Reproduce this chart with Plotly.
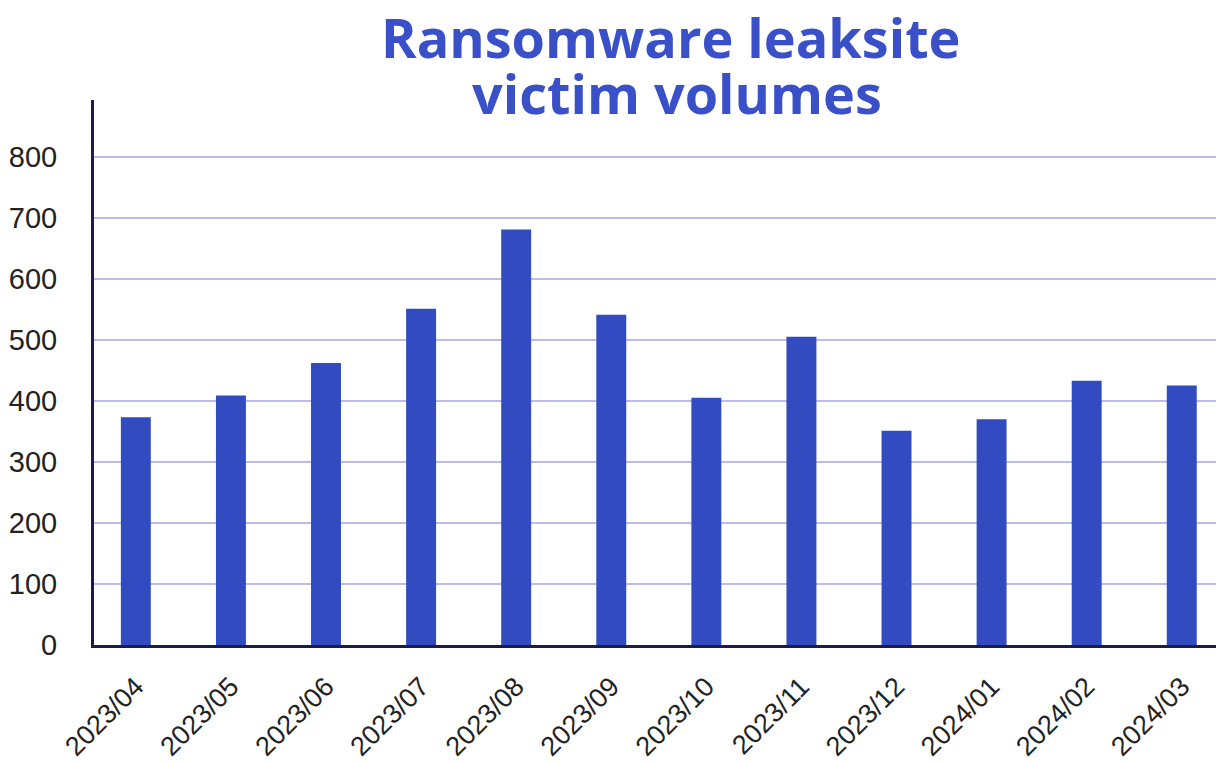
import plotly.graph_objects as go

months = ["2023/04", "2023/05", "2023/06", "2023/07", "2023/08", "2023/09",
          "2023/10", "2023/11", "2023/12", "2024/01", "2024/02", "2024/03"]
victims = [373, 409, 462, 551, 681, 541, 405, 505, 351, 370, 433, 425]
y_ticks = [0, 100, 200, 300, 400, 500, 600, 700, 800]
title_lines = ["Ransomware leaksite", "victim volumes"]

BAR = "#334bc0"
TITLE = "#3a50c8"
AXIS = "#1c1c4a"
GRID = "#bcbcec"

fig = go.Figure(go.Bar(x=list(range(len(months))), y=victims, marker_color=BAR,
                       marker_line_width=0))

fig.update_layout(
    width=1216, height=762,
    margin=dict(l=94, r=0, t=100, b=116.5, pad=0),
    paper_bgcolor="white", plot_bgcolor="white",
    bargap=0.685,
    showlegend=False,
    font=dict(family="Liberation Sans, Arial, sans-serif", color="#222222"),
    annotations=[
        dict(text=f"<b>{title_lines[0]}</b>", xref="paper", yref="paper",
             x=0.514, y=1.116, xanchor="center", yanchor="middle", showarrow=False,
             font=dict(family="Open Sans, sans-serif", size=54, color=TITLE)),
        dict(text=f"<b>{title_lines[1]}</b>", xref="paper", yref="paper",
             x=0.520, y=1.012, xanchor="center", yanchor="middle", showarrow=False,
             font=dict(family="Open Sans, sans-serif", size=54, color=TITLE)),
    ],
)

fig.update_xaxes(
    range=[-0.44, 11.36],
    tickmode="array", tickvals=list(range(len(months))), ticktext=months,
    tickangle=-45, tickfont=dict(size=27, color="#222222"),
    ticks="outside", ticklen=12, tickcolor="rgba(0,0,0,0)",
    showline=True, linecolor=AXIS, linewidth=3,
    showgrid=False, zeroline=False,
)
fig.update_yaxes(
    range=[0, 893],
    tickmode="array", tickvals=y_ticks, ticktext=[str(v) for v in y_ticks],
    tickfont=dict(size=29, color="#222222"),
    ticks="outside", ticklen=28, tickcolor="rgba(0,0,0,0)",
    showline=True, linecolor=AXIS, linewidth=3,
    showgrid=True, gridcolor=GRID, gridwidth=1.5,
    zeroline=False,
)

fig.write_html("out.html",
               config={"displayModeBar": False},
               post_script="document.body.style.margin='0';document.body.style.overflow='hidden';")
